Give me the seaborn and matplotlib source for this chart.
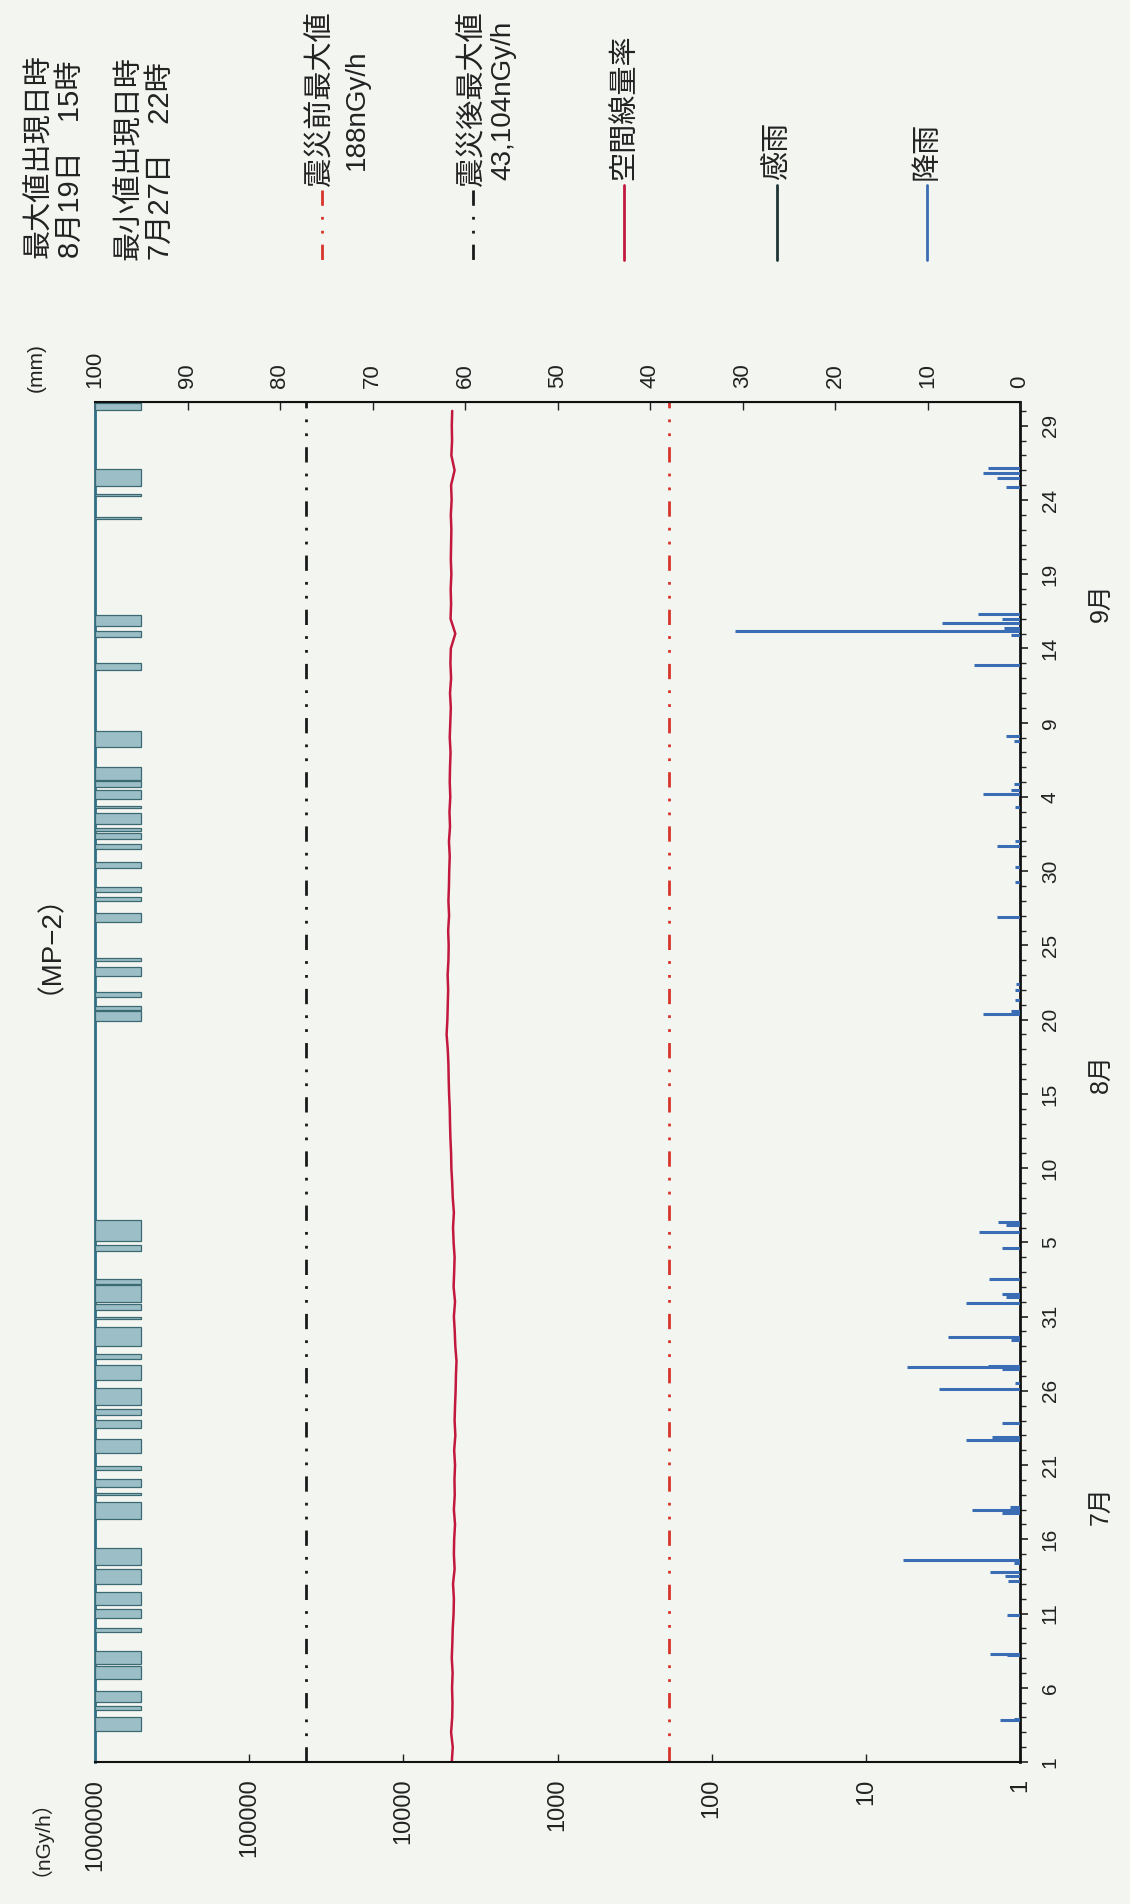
import matplotlib
matplotlib.use("Agg")
import matplotlib.pyplot as plt
import seaborn as sns
from matplotlib.lines import Line2D
from matplotlib.ticker import NullLocator

# --- data (days counted from 7/1 00:00) ---
dose_day = list(range(0, 92))
dose_val = [
    4850, 4780, 4900, 4820, 4800, 4830, 4790, 4850, 4810, 4780,
    4720, 4700, 4760, 4650, 4700, 4680, 4620, 4700, 4640, 4660,
    4620, 4680, 4600, 4650, 4620, 4580, 4560, 4520, 4600, 4640,
    4700, 4620, 4720, 4680, 4650, 4720, 4760, 4700, 4780, 4820,
    4880, 4900, 4950, 4980, 5000, 5050, 5080, 5100, 5150, 5240,
    5180, 5150, 5120, 5160, 5100, 5080, 5120, 5050, 5100, 5060,
    5040, 5000, 5060, 4980, 5020, 4960, 5000, 4980, 4940, 5000,
    4960, 4920, 4980, 4900, 4950, 4920, 4600, 4940, 4900, 4930,
    4880, 4920, 4900, 4880, 4920, 4860, 4900, 4650, 4880, 4830,
    4850, 4820,
]

pre_quake_max = 188
post_quake_max = 43104

rain_day = [
    2.8, 2.9, 7.2, 7.3, 9.9, 12.2, 12.5, 12.8, 13.4, 13.6,
    16.8, 17.0, 17.2, 21.7, 21.9, 22.8, 25.1, 25.5, 26.5, 26.6,
    26.7, 28.4, 28.6, 30.9, 31.3, 31.5, 32.5, 34.6, 35.7, 36.2,
    36.4, 50.4, 50.6, 51.3, 52.0, 52.4, 56.9, 59.3, 60.3, 61.7,
    62.0, 64.3, 65.2, 65.5, 65.9, 68.8, 69.1, 73.9, 75.9, 76.2,
    76.4, 76.7, 77.0, 77.3, 85.9, 86.5, 86.8, 87.15,
]
rain_mm = [
    2.2, 0.6, 1.4, 3.2, 1.4, 1.3, 1.6, 3.2, 0.6, 12.7,
    2.0, 5.2, 1.1, 5.8, 3.0, 1.9, 8.8, 0.5, 2.0, 12.2,
    3.5, 1.0, 7.8, 5.8, 1.5, 1.9, 3.3, 1.9, 4.4, 1.5,
    2.4, 4.0, 1.0, 0.5, 0.5, 0.4, 2.5, 0.5, 0.5, 2.5,
    0.5, 0.5, 4.0, 1.0, 0.6, 0.6, 1.5, 5.0, 1.0, 30.8,
    1.7, 8.4, 2.0, 4.5, 1.5, 2.5, 4.0, 3.5,
]

# rain sensor on/off periods
sense_start = [
    2.07, 3.48, 4.05, 5.61, 6.60, 8.73, 9.72, 10.57, 11.99, 13.27,
    16.39, 17.95, 18.52, 19.65, 20.79, 22.49, 23.34, 24.05, 25.75, 27.17,
    28.02, 29.86, 30.43, 31.00, 32.20, 34.40, 35.11,
    49.89, 50.63, 51.53, 52.92, 53.93, 56.60, 57.99, 58.59, 60.20,
    61.48, 62.20, 62.68, 63.17, 64.24, 64.85, 65.69, 66.17, 68.33,
    73.58, 75.75, 76.52, 83.69, 85.24, 85.91, 91.08,
]
sense_end = [
    3.06, 3.77, 4.76, 6.46, 7.46, 9.02, 10.29, 11.43, 12.99, 14.41,
    17.53, 18.09, 19.08, 19.93, 21.78, 23.05, 23.77, 25.18, 26.74, 27.45,
    29.29, 30.00, 30.86, 32.13, 32.55, 34.83, 36.53,
    50.56, 50.94, 51.84, 53.55, 54.16, 57.20, 58.23, 58.93, 60.64,
    61.84, 62.56, 62.92, 63.89, 64.37, 65.50, 66.05, 67.01, 69.42,
    73.99, 76.16, 77.24, 83.86, 85.42, 87.11, 91.56,
]

dose_ticks = [1000000, 100000, 10000, 1000, 100, 10, 1]
dose_tick_labels = ["1000000", "100000", "10000", "1000", "100", "10", "1"]
rain_ticks = [100, 90, 80, 70, 60, 50, 40, 30, 20, 10, 0]
date_ticks = list(range(0, 91, 5))
date_labels = ["1", "6", "11", "16", "21", "26", "31", "5", "10", "15",
               "20", "25", "30", "4", "9", "14", "19", "24", "29"]
month_pos = [17.3, 46.4, 78.1]
month_labels = ["7月", "8月", "9月"]

W, H = 1130, 1904
BG = "#f3f5f1"
INK = "#222222"
RED = "#c2183e"
REF_RED = "#d8342a"
BLUE = "#3a6db4"
TEAL = "#9cbec6"
TEAL_EDGE = "#3c6a73"

sns.set_style("ticks")
plt.rcParams["font.family"] = ["Liberation Sans", "Noto Sans CJK JP"]
plt.rcParams["text.color"] = INK

fig = plt.figure(figsize=(W / 100, H / 100), dpi=100, facecolor=BG)
ax = fig.add_axes([95 / W, (H - 1762) / H, 925 / W, 1360 / H])
ax.set_facecolor(BG)

# dose rate (log scale, increasing to the left)
ax.set_xscale("log")
ax.set_xlim(1e6, 1)
ax.set_ylim(0, 91.6)

dashdotdot = (0, (5.5, 4, 1, 4, 1, 4))
ax.axvline(pre_quake_max, color=REF_RED, lw=2, ls=dashdotdot)
ax.axvline(post_quake_max, color="#1a1a1a", lw=2, ls=dashdotdot)
sns.lineplot(x=dose_val, y=dose_day, orient="y", estimator=None, ax=ax,
             color=RED, lw=1.8, legend=False)

ax.set_xticks(dose_ticks)
ax.set_xticklabels(dose_tick_labels)
ax.xaxis.set_minor_locator(NullLocator())
ax.tick_params(axis="x", direction="in", length=6, width=1, labelsize=17,
               labelrotation=90, pad=12, colors=INK)

ax.yaxis.tick_right()
ax.set_yticks(date_ticks)
ax.set_yticklabels(date_labels)
ax.set_yticks(range(0, 92), minor=True)
ax.tick_params(axis="y", which="major", direction="out", length=6, width=1.2,
               labelsize=15, labelrotation=90, pad=9, colors=INK)
ax.tick_params(axis="y", which="minor", direction="out", length=4, width=1)
for lab in ax.get_yticklabels():
    lab.set_va("center")
ax.set_xlabel("")
ax.set_ylabel("")

for side in ["top", "right", "bottom"]:
    ax.spines[side].set_color("#111111")
ax.spines["right"].set_linewidth(2)
ax.spines["bottom"].set_linewidth(1.5)
ax.spines["left"].set_color("#2f6f86")
ax.spines["left"].set_linewidth(2)

for pos, lab in zip(month_pos, month_labels):
    ax.text(1.0875, pos, lab, transform=ax.get_yaxis_transform(),
            rotation=90, ha="center", va="center", fontsize=18)

# rainfall + rain sensor on the second scale (mm, increasing to the left)
ax_r = ax.twiny()
ax_r.set_xlim(100, 0)
ax_r.set_ylim(0, 91.6)
centers = [(s + e) / 2 for s, e in zip(sense_start, sense_end)]
spans = [e - s for s, e in zip(sense_start, sense_end)]
ax_r.barh(centers, [5] * len(centers), left=95, height=spans,
          color=TEAL, edgecolor=TEAL_EDGE, linewidth=0.9)
ax_r.hlines(rain_day, 0, rain_mm, color=BLUE, lw=2.2)

ax_r.set_xticks(rain_ticks)
ax_r.set_xticklabels([str(t) for t in rain_ticks])
ax_r.tick_params(axis="x", direction="in", length=6, width=1, labelsize=16,
                 labelrotation=90, pad=10, colors=INK)
for side in ["left", "right", "bottom"]:
    ax_r.spines[side].set_visible(False)
ax_r.spines["top"].set_color("#111111")
ax_r.spines["top"].set_linewidth(1.5)


def ftext(x, y, s, **kw):
    fig.text(x / W, 1 - y / H, s, rotation=90, **kw)


def fline(x, y0, y1, **kw):
    fig.add_artist(Line2D([x / W, x / W], [1 - y0 / H, 1 - y1 / H], **kw))


# unit labels and title
ftext(36, 392, "(mm)", ha="center", va="bottom", fontsize=15)
ftext(30, 1778, "（nGy/h）", ha="center", va="top", fontsize=15)
ftext(36, 930, "（MP−2）", ha="center", va="center", fontsize=20)

# max / min occurrence
ftext(39, 258, "最大値出現日時", ha="center", va="bottom", fontsize=21)
ftext(71, 258, "8月19日　15時", ha="center", va="bottom", fontsize=21)
ftext(129, 260, "最小値出現日時", ha="center", va="bottom", fontsize=21)
ftext(161, 260, "7月27日　22時", ha="center", va="bottom", fontsize=21)

# legend
fline(322, 190, 262, color=REF_RED, lw=2, ls=dashdotdot)
ftext(321, 186, "震災前最大値", ha="center", va="bottom", fontsize=21)
ftext(357, 170, "188nGy/h", ha="center", va="bottom", fontsize=20)

fline(473, 190, 262, color="#1a1a1a", lw=2, ls=dashdotdot)
ftext(473, 186, "震災後最大値", ha="center", va="bottom", fontsize=21)
ftext(503, 180, "43,104nGy/h", ha="center", va="bottom", fontsize=20)

fline(624, 185, 260, color=RED, lw=2)
ftext(624, 180, "空間線量率", ha="center", va="bottom", fontsize=21)

fline(777, 185, 260, color="#1d3434", lw=2)
ftext(777, 180, "感雨", ha="center", va="bottom", fontsize=21)

fline(927, 185, 260, color=BLUE, lw=2)
ftext(927, 180, "降雨", ha="center", va="bottom", fontsize=21)

fig.savefig("out.png", dpi=100, facecolor=BG)
